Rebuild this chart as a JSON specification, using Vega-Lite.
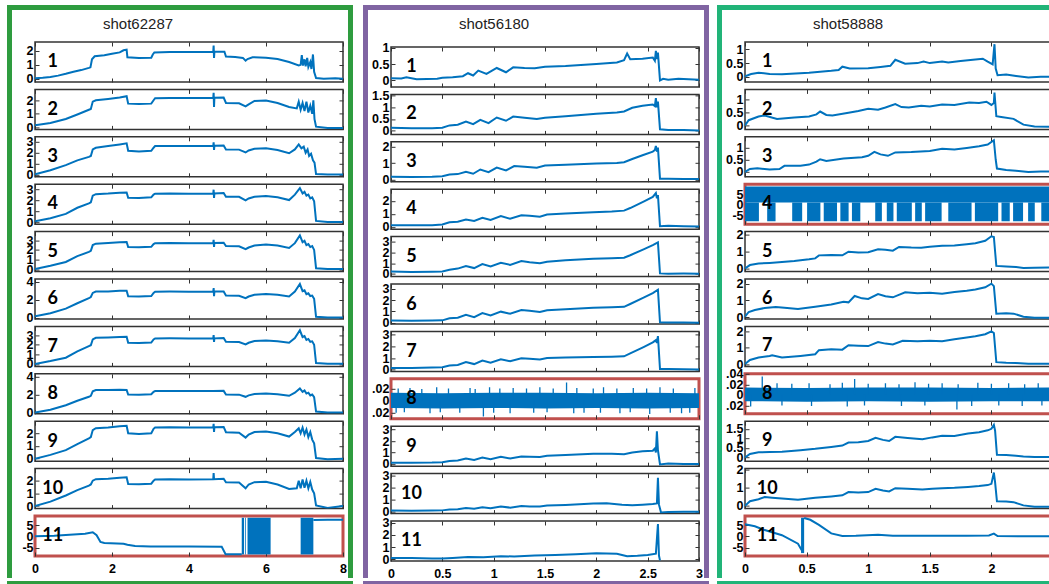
{
"$schema":"https://vega.github.io/schema/vega-lite/v6.json",
"padding":{"left":7,"top":5,"right":0,"bottom":0},
"background":"#ffffff",
"spacing":0,
"config":{
"view":{"stroke":"#333333","strokeWidth":1.5},
"axis":{"labelFont":"Liberation Sans","labelFontSize":12.5,"labelFontWeight":"bold","labelColor":"#000000","tickColor":"#333333","tickSize":-4,"tickWidth":1,"domain":false,"grid":false,"labelFlush":false,"labelOverlap":false,"labelSeparation":-30,"labelPadding":6},
"axisX":{"labelPadding":10},
"axisY":{"minExtent":20,"maxExtent":20,"titleFontSize":1,"titlePadding":0,"titleColor":"#ffffff"},
"line":{"color":"#0072BD","strokeWidth":2},
"text":{"font":"Lato","fontSize":18,"fontWeight":"bold","color":"#000000"},
"rect":{"color":"#0072BD"},
"area":{"color":"#0072BD"},
"rule":{"color":"#0072BD","strokeWidth":1.3},
"title":{"font":"Liberation Sans","fontSize":15,"fontWeight":"normal","color":"#222222"}
},
"datasets":{
"c1r1":[{"x":0,"y":0.03},{"x":0.2,"y":0.06},{"x":0.4,"y":0.12},{"x":0.6,"y":0.22},{"x":0.8,"y":0.35},{"x":1.0,"y":0.5},{"x":1.2,"y":0.62},{"x":1.4,"y":0.78},{"x":1.44,"y":0.82},{"x":1.48,"y":1.4},{"x":1.55,"y":1.62},{"x":1.8,"y":1.7},{"x":2.0,"y":1.8},{"x":2.2,"y":1.9},{"x":2.3,"y":2.05},{"x":2.38,"y":2.1},{"x":2.4,"y":1.55},{"x":2.7,"y":1.5},{"x":3.02,"y":1.52},{"x":3.06,"y":1.75},{"x":3.1,"y":1.9},{"x":3.5,"y":1.92},{"x":4.0,"y":1.93},{"x":4.4,"y":1.92},{"x":4.63,"y":1.95},{"x":4.64,"y":2.4},{"x":4.65,"y":1.5},{"x":4.66,"y":1.95},{"x":4.92,"y":1.95},{"x":4.96,"y":1.6},{"x":5.2,"y":1.57},{"x":5.4,"y":1.5},{"x":5.47,"y":1.3},{"x":5.52,"y":1.42},{"x":5.65,"y":1.55},{"x":6.0,"y":1.52},{"x":6.3,"y":1.42},{"x":6.6,"y":1.2},{"x":6.85,"y":0.95},{"x":6.9,"y":1.0},{"x":6.93,"y":1.7},{"x":6.96,"y":0.95},{"x":7.0,"y":1.4},{"x":7.03,"y":0.9},{"x":7.07,"y":1.5},{"x":7.1,"y":0.85},{"x":7.15,"y":1.2},{"x":7.18,"y":0.7},{"x":7.22,"y":1.75},{"x":7.25,"y":0.5},{"x":7.3,"y":0.05},{"x":7.5,"y":0.0},{"x":7.8,"y":0.03},{"x":8.0,"y":0.0}],
"c1r2":[{"x":0,"y":0.15},{"x":0.4,"y":0.32},{"x":0.8,"y":0.62},{"x":1.1,"y":0.95},{"x":1.4,"y":1.3},{"x":1.45,"y":1.35},{"x":1.5,"y":1.9},{"x":1.58,"y":2.0},{"x":1.9,"y":2.1},{"x":2.2,"y":2.2},{"x":2.38,"y":2.3},{"x":2.42,"y":1.75},{"x":2.7,"y":1.72},{"x":3.02,"y":1.75},{"x":3.08,"y":2.0},{"x":3.12,"y":2.15},{"x":3.5,"y":2.17},{"x":4.0,"y":2.17},{"x":4.63,"y":2.18},{"x":4.64,"y":2.55},{"x":4.65,"y":1.5},{"x":4.66,"y":2.18},{"x":4.9,"y":2.2},{"x":4.96,"y":1.8},{"x":5.3,"y":1.78},{"x":5.47,"y":1.55},{"x":5.55,"y":1.7},{"x":5.7,"y":1.95},{"x":6.0,"y":1.98},{"x":6.3,"y":1.8},{"x":6.6,"y":1.5},{"x":6.8,"y":1.4},{"x":6.85,"y":1.9},{"x":6.9,"y":1.3},{"x":6.95,"y":1.8},{"x":7.0,"y":1.2},{"x":7.05,"y":1.9},{"x":7.1,"y":1.1},{"x":7.15,"y":1.6},{"x":7.2,"y":1.0},{"x":7.23,"y":2.0},{"x":7.26,"y":0.6},{"x":7.3,"y":0.05},{"x":7.6,"y":-0.05},{"x":8.0,"y":-0.05}],
"c1r3":[{"x":0,"y":0.02},{"x":0.4,"y":0.4},{"x":0.8,"y":0.86},{"x":1.1,"y":1.3},{"x":1.4,"y":1.62},{"x":1.45,"y":1.7},{"x":1.5,"y":2.3},{"x":1.58,"y":2.45},{"x":1.9,"y":2.6},{"x":2.2,"y":2.75},{"x":2.38,"y":2.85},{"x":2.42,"y":2.17},{"x":2.7,"y":2.1},{"x":3.02,"y":2.17},{"x":3.08,"y":2.45},{"x":3.12,"y":2.6},{"x":3.5,"y":2.62},{"x":4.0,"y":2.6},{"x":4.63,"y":2.63},{"x":4.64,"y":2.95},{"x":4.65,"y":2.25},{"x":4.66,"y":2.63},{"x":4.9,"y":2.65},{"x":4.96,"y":2.3},{"x":5.3,"y":2.28},{"x":5.47,"y":2.02},{"x":5.55,"y":2.2},{"x":5.7,"y":2.35},{"x":6.0,"y":2.4},{"x":6.3,"y":2.25},{"x":6.6,"y":1.95},{"x":6.75,"y":2.3},{"x":6.85,"y":2.75},{"x":6.92,"y":2.4},{"x":6.98,"y":2.55},{"x":7.03,"y":2.0},{"x":7.08,"y":2.3},{"x":7.12,"y":1.7},{"x":7.17,"y":1.9},{"x":7.22,"y":1.3},{"x":7.26,"y":1.1},{"x":7.3,"y":0.05},{"x":7.6,"y":0.0},{"x":8.0,"y":0.0}],
"c1r4":[{"x":0,"y":0.06},{"x":0.4,"y":0.35},{"x":0.8,"y":0.74},{"x":1.1,"y":1.3},{"x":1.4,"y":1.7},{"x":1.45,"y":1.8},{"x":1.5,"y":2.4},{"x":1.58,"y":2.54},{"x":1.9,"y":2.6},{"x":2.2,"y":2.68},{"x":2.38,"y":2.69},{"x":2.42,"y":2.22},{"x":2.7,"y":2.2},{"x":3.02,"y":2.25},{"x":3.08,"y":2.5},{"x":3.12,"y":2.58},{"x":3.5,"y":2.6},{"x":4.0,"y":2.58},{"x":4.63,"y":2.6},{"x":4.64,"y":2.95},{"x":4.65,"y":2.2},{"x":4.66,"y":2.6},{"x":4.9,"y":2.65},{"x":4.96,"y":2.31},{"x":5.3,"y":2.3},{"x":5.47,"y":1.98},{"x":5.55,"y":2.15},{"x":5.7,"y":2.3},{"x":6.0,"y":2.38},{"x":6.3,"y":2.25},{"x":6.6,"y":2.0},{"x":6.75,"y":2.5},{"x":6.88,"y":3.09},{"x":6.95,"y":2.6},{"x":7.0,"y":2.75},{"x":7.05,"y":2.4},{"x":7.1,"y":2.5},{"x":7.15,"y":2.15},{"x":7.2,"y":2.25},{"x":7.25,"y":1.9},{"x":7.3,"y":0.1},{"x":7.6,"y":0.0},{"x":8.0,"y":0.0}],
"c1r5":[{"x":0,"y":0.02},{"x":0.4,"y":0.35},{"x":0.8,"y":0.75},{"x":1.1,"y":1.35},{"x":1.4,"y":1.79},{"x":1.45,"y":1.9},{"x":1.5,"y":2.5},{"x":1.58,"y":2.65},{"x":1.9,"y":2.72},{"x":2.2,"y":2.8},{"x":2.38,"y":2.82},{"x":2.42,"y":2.3},{"x":2.7,"y":2.28},{"x":3.02,"y":2.32},{"x":3.08,"y":2.6},{"x":3.12,"y":2.7},{"x":3.5,"y":2.72},{"x":4.0,"y":2.7},{"x":4.63,"y":2.72},{"x":4.64,"y":3.05},{"x":4.65,"y":2.3},{"x":4.66,"y":2.72},{"x":4.9,"y":2.75},{"x":4.96,"y":2.41},{"x":5.3,"y":2.38},{"x":5.47,"y":2.07},{"x":5.55,"y":2.25},{"x":5.7,"y":2.45},{"x":6.0,"y":2.55},{"x":6.3,"y":2.45},{"x":6.6,"y":2.2},{"x":6.75,"y":2.7},{"x":6.88,"y":3.5},{"x":6.95,"y":2.8},{"x":7.0,"y":2.95},{"x":7.05,"y":2.5},{"x":7.1,"y":2.6},{"x":7.15,"y":2.3},{"x":7.2,"y":2.4},{"x":7.25,"y":2.0},{"x":7.3,"y":0.1},{"x":7.6,"y":0.02},{"x":8.0,"y":0.02}],
"c1r6":[{"x":0,"y":0.15},{"x":0.4,"y":0.5},{"x":0.8,"y":1.0},{"x":1.1,"y":1.6},{"x":1.4,"y":2.16},{"x":1.45,"y":2.3},{"x":1.5,"y":2.75},{"x":1.58,"y":2.9},{"x":1.9,"y":2.92},{"x":2.2,"y":2.98},{"x":2.38,"y":3.0},{"x":2.42,"y":2.38},{"x":2.7,"y":2.36},{"x":3.02,"y":2.4},{"x":3.08,"y":2.75},{"x":3.12,"y":2.88},{"x":3.5,"y":2.9},{"x":4.0,"y":2.88},{"x":4.63,"y":2.9},{"x":4.64,"y":3.3},{"x":4.65,"y":2.4},{"x":4.66,"y":2.9},{"x":4.9,"y":2.92},{"x":4.96,"y":2.46},{"x":5.3,"y":2.44},{"x":5.47,"y":2.16},{"x":5.55,"y":2.35},{"x":5.7,"y":2.55},{"x":6.0,"y":2.64},{"x":6.3,"y":2.55},{"x":6.6,"y":2.35},{"x":6.75,"y":2.9},{"x":6.88,"y":3.74},{"x":6.95,"y":2.95},{"x":7.0,"y":3.05},{"x":7.05,"y":2.6},{"x":7.1,"y":2.7},{"x":7.15,"y":2.4},{"x":7.2,"y":2.45},{"x":7.25,"y":2.1},{"x":7.3,"y":0.1},{"x":7.6,"y":0.02},{"x":8.0,"y":0.02}],
"c1r7":[{"x":0,"y":0.0},{"x":0.4,"y":0.3},{"x":0.8,"y":0.65},{"x":1.1,"y":1.3},{"x":1.4,"y":1.86},{"x":1.45,"y":1.95},{"x":1.5,"y":2.55},{"x":1.58,"y":2.72},{"x":1.9,"y":2.75},{"x":2.2,"y":2.8},{"x":2.38,"y":2.82},{"x":2.42,"y":2.2},{"x":2.7,"y":2.18},{"x":3.02,"y":2.22},{"x":3.08,"y":2.55},{"x":3.12,"y":2.65},{"x":3.5,"y":2.66},{"x":4.0,"y":2.65},{"x":4.63,"y":2.66},{"x":4.64,"y":3.0},{"x":4.65,"y":2.3},{"x":4.66,"y":2.66},{"x":4.9,"y":2.7},{"x":4.96,"y":2.3},{"x":5.3,"y":2.28},{"x":5.47,"y":2.03},{"x":5.55,"y":2.2},{"x":5.7,"y":2.38},{"x":6.0,"y":2.44},{"x":6.3,"y":2.35},{"x":6.6,"y":2.2},{"x":6.75,"y":2.7},{"x":6.88,"y":3.5},{"x":6.95,"y":2.8},{"x":7.0,"y":2.9},{"x":7.05,"y":2.5},{"x":7.1,"y":2.6},{"x":7.15,"y":2.3},{"x":7.2,"y":2.35},{"x":7.25,"y":2.0},{"x":7.3,"y":0.1},{"x":7.6,"y":0.02},{"x":8.0,"y":0.02}],
"c1r8":[{"x":0,"y":0.0},{"x":0.4,"y":0.3},{"x":0.8,"y":0.8},{"x":1.1,"y":1.3},{"x":1.4,"y":1.74},{"x":1.45,"y":1.85},{"x":1.5,"y":2.35},{"x":1.58,"y":2.49},{"x":1.9,"y":2.5},{"x":2.2,"y":2.52},{"x":2.38,"y":2.5},{"x":2.42,"y":2.0},{"x":2.7,"y":1.98},{"x":3.02,"y":2.02},{"x":3.08,"y":2.3},{"x":3.12,"y":2.38},{"x":3.5,"y":2.4},{"x":4.0,"y":2.38},{"x":4.63,"y":2.38},{"x":4.9,"y":2.4},{"x":4.96,"y":2.0},{"x":5.3,"y":1.98},{"x":5.47,"y":1.74},{"x":5.55,"y":1.9},{"x":5.7,"y":2.05},{"x":6.0,"y":2.1},{"x":6.3,"y":2.02},{"x":6.6,"y":1.85},{"x":6.75,"y":2.2},{"x":6.88,"y":2.67},{"x":6.95,"y":2.3},{"x":7.0,"y":2.45},{"x":7.05,"y":2.1},{"x":7.1,"y":2.2},{"x":7.15,"y":1.9},{"x":7.2,"y":2.0},{"x":7.25,"y":1.7},{"x":7.3,"y":0.1},{"x":7.6,"y":0.0},{"x":8.0,"y":0.0}],
"c1r9":[{"x":0,"y":0.0},{"x":0.4,"y":0.3},{"x":0.8,"y":0.67},{"x":1.1,"y":1.15},{"x":1.4,"y":1.6},{"x":1.45,"y":1.7},{"x":1.5,"y":2.25},{"x":1.58,"y":2.4},{"x":1.9,"y":2.45},{"x":2.2,"y":2.55},{"x":2.38,"y":2.59},{"x":2.42,"y":2.0},{"x":2.7,"y":1.95},{"x":3.02,"y":2.0},{"x":3.08,"y":2.35},{"x":3.12,"y":2.45},{"x":3.5,"y":2.48},{"x":4.0,"y":2.46},{"x":4.63,"y":2.48},{"x":4.64,"y":2.75},{"x":4.65,"y":2.1},{"x":4.66,"y":2.48},{"x":4.9,"y":2.5},{"x":4.96,"y":2.08},{"x":5.3,"y":2.05},{"x":5.47,"y":1.66},{"x":5.55,"y":1.9},{"x":5.7,"y":2.1},{"x":6.0,"y":2.14},{"x":6.3,"y":2.0},{"x":6.6,"y":1.74},{"x":6.75,"y":2.1},{"x":6.85,"y":2.4},{"x":6.9,"y":2.0},{"x":6.95,"y":2.45},{"x":7.0,"y":1.9},{"x":7.05,"y":2.3},{"x":7.1,"y":1.7},{"x":7.15,"y":2.1},{"x":7.2,"y":1.5},{"x":7.25,"y":1.2},{"x":7.3,"y":0.05},{"x":7.6,"y":-0.05},{"x":8.0,"y":0.0}],
"c1r10":[{"x":0,"y":0.0},{"x":0.4,"y":0.35},{"x":0.8,"y":0.83},{"x":1.1,"y":1.25},{"x":1.4,"y":1.61},{"x":1.45,"y":1.7},{"x":1.5,"y":2.0},{"x":1.58,"y":2.12},{"x":1.9,"y":2.15},{"x":2.2,"y":2.22},{"x":2.38,"y":2.26},{"x":2.42,"y":1.74},{"x":2.7,"y":1.72},{"x":3.02,"y":1.76},{"x":3.08,"y":2.0},{"x":3.12,"y":2.1},{"x":3.5,"y":2.12},{"x":4.0,"y":2.1},{"x":4.63,"y":2.12},{"x":4.64,"y":2.6},{"x":4.65,"y":2.12},{"x":4.9,"y":2.15},{"x":4.96,"y":1.87},{"x":5.3,"y":1.85},{"x":5.47,"y":1.4},{"x":5.55,"y":1.7},{"x":5.7,"y":1.88},{"x":6.0,"y":1.92},{"x":6.3,"y":1.7},{"x":6.6,"y":1.35},{"x":6.8,"y":1.4},{"x":6.85,"y":2.0},{"x":6.9,"y":1.4},{"x":6.95,"y":2.1},{"x":7.0,"y":1.45},{"x":7.05,"y":2.0},{"x":7.1,"y":1.4},{"x":7.15,"y":1.9},{"x":7.2,"y":1.3},{"x":7.25,"y":1.0},{"x":7.3,"y":0.05},{"x":7.6,"y":-0.15},{"x":8.0,"y":0.0}],
"c1r11":[{"s":"a","x":0,"y":0},{"s":"a","x":0.5,"y":0.3},{"s":"a","x":1.0,"y":0.8},{"s":"a","x":1.3,"y":1.2},{"s":"a","x":1.5,"y":1.8},{"s":"a","x":1.6,"y":0.5},{"s":"a","x":1.7,"y":-2.5},{"s":"a","x":1.8,"y":-3.0},{"s":"a","x":2.3,"y":-3.3},{"s":"a","x":2.4,"y":-3.8},{"s":"a","x":2.6,"y":-4.3},{"s":"a","x":3.0,"y":-4.5},{"s":"a","x":4.0,"y":-4.6},{"s":"a","x":4.85,"y":-4.7},{"s":"a","x":4.95,"y":-8.0},{"s":"a","x":5.37,"y":-8.0},{"s":"b","x":7.23,"y":7.3},{"s":"b","x":7.6,"y":7.4},{"s":"b","x":8.0,"y":7.4}],
"c1r11b":[{"x":5.37,"x2":5.43,"lo":-8.1,"hi":8.3},{"x":5.46,"x2":5.48,"lo":-8.1,"hi":8.3},{"x":5.52,"x2":6.12,"lo":-8.1,"hi":8.3},{"x":6.9,"x2":7.23,"lo":-8.1,"hi":8.3}],
"c2r1":[{"x":0,"y":0.07},{"x":0.1,"y":0.06},{"x":0.15,"y":0.1},{"x":0.25,"y":0.04},{"x":0.45,"y":0.05},{"x":0.5,"y":0.08},{"x":0.6,"y":0.1},{"x":0.7,"y":0.13},{"x":0.75,"y":0.22},{"x":0.8,"y":0.15},{"x":0.85,"y":0.3},{"x":0.93,"y":0.2},{"x":1.03,"y":0.38},{"x":1.12,"y":0.25},{"x":1.19,"y":0.4},{"x":1.3,"y":0.38},{"x":1.4,"y":0.37},{"x":1.5,"y":0.42},{"x":1.7,"y":0.44},{"x":2.0,"y":0.5},{"x":2.2,"y":0.55},{"x":2.27,"y":0.62},{"x":2.3,"y":0.82},{"x":2.33,"y":0.65},{"x":2.45,"y":0.66},{"x":2.55,"y":0.7},{"x":2.57,"y":0.6},{"x":2.58,"y":0.9},{"x":2.59,"y":0.65},{"x":2.6,"y":0.85},{"x":2.62,"y":0.0},{"x":2.65,"y":0.05},{"x":2.7,"y":0.02},{"x":2.8,"y":0.05},{"x":3.0,"y":0.02}],
"c2r2":[{"x":0,"y":0.12},{"x":0.2,"y":0.1},{"x":0.4,"y":0.1},{"x":0.5,"y":0.12},{"x":0.57,"y":0.22},{"x":0.65,"y":0.25},{"x":0.73,"y":0.39},{"x":0.8,"y":0.27},{"x":0.87,"y":0.46},{"x":0.95,"y":0.32},{"x":1.03,"y":0.56},{"x":1.12,"y":0.42},{"x":1.19,"y":0.6},{"x":1.3,"y":0.55},{"x":1.42,"y":0.5},{"x":1.5,"y":0.55},{"x":1.7,"y":0.62},{"x":2.0,"y":0.72},{"x":2.2,"y":0.78},{"x":2.27,"y":0.82},{"x":2.35,"y":0.98},{"x":2.45,"y":1.07},{"x":2.55,"y":1.12},{"x":2.57,"y":1.05},{"x":2.58,"y":1.4},{"x":2.59,"y":1.0},{"x":2.6,"y":1.25},{"x":2.62,"y":0.05},{"x":2.7,"y":0.02},{"x":2.85,"y":0.02},{"x":3.0,"y":0.0}],
"c2r3":[{"x":0,"y":0.17},{"x":0.2,"y":0.15},{"x":0.4,"y":0.17},{"x":0.5,"y":0.2},{"x":0.57,"y":0.3},{"x":0.65,"y":0.33},{"x":0.73,"y":0.47},{"x":0.8,"y":0.35},{"x":0.87,"y":0.61},{"x":0.95,"y":0.45},{"x":1.03,"y":0.73},{"x":1.12,"y":0.55},{"x":1.2,"y":0.82},{"x":1.3,"y":0.78},{"x":1.42,"y":0.72},{"x":1.5,"y":0.85},{"x":1.7,"y":0.9},{"x":2.0,"y":0.98},{"x":2.2,"y":1.0},{"x":2.27,"y":1.05},{"x":2.35,"y":1.25},{"x":2.45,"y":1.48},{"x":2.55,"y":1.7},{"x":2.57,"y":1.8},{"x":2.58,"y":2.05},{"x":2.59,"y":1.7},{"x":2.6,"y":1.95},{"x":2.62,"y":0.05},{"x":2.7,"y":0.05},{"x":2.85,"y":0.03},{"x":3.0,"y":0.03}],
"c2r4":[{"x":0,"y":0.12},{"x":0.2,"y":0.12},{"x":0.4,"y":0.13},{"x":0.5,"y":0.18},{"x":0.57,"y":0.35},{"x":0.65,"y":0.4},{"x":0.73,"y":0.57},{"x":0.81,"y":0.45},{"x":0.89,"y":0.7},{"x":0.97,"y":0.53},{"x":1.07,"y":0.83},{"x":1.16,"y":0.62},{"x":1.27,"y":0.9},{"x":1.35,"y":0.85},{"x":1.45,"y":0.78},{"x":1.52,"y":0.95},{"x":1.7,"y":1.02},{"x":1.97,"y":1.12},{"x":2.15,"y":1.18},{"x":2.27,"y":1.25},{"x":2.33,"y":1.45},{"x":2.46,"y":1.95},{"x":2.55,"y":2.3},{"x":2.58,"y":2.6},{"x":2.59,"y":2.2},{"x":2.6,"y":2.45},{"x":2.62,"y":0.05},{"x":2.7,"y":0.08},{"x":2.85,"y":0.05},{"x":3.0,"y":0.03}],
"c2r5":[{"x":0,"y":0.22},{"x":0.2,"y":0.18},{"x":0.4,"y":0.2},{"x":0.5,"y":0.22},{"x":0.57,"y":0.4},{"x":0.65,"y":0.5},{"x":0.73,"y":0.74},{"x":0.81,"y":0.55},{"x":0.89,"y":0.93},{"x":0.97,"y":0.7},{"x":1.07,"y":1.05},{"x":1.16,"y":0.85},{"x":1.27,"y":1.2},{"x":1.35,"y":1.1},{"x":1.45,"y":1.0},{"x":1.52,"y":1.15},{"x":1.7,"y":1.28},{"x":1.97,"y":1.42},{"x":2.15,"y":1.48},{"x":2.27,"y":1.52},{"x":2.33,"y":1.75},{"x":2.46,"y":2.3},{"x":2.55,"y":2.7},{"x":2.6,"y":2.95},{"x":2.62,"y":0.05},{"x":2.7,"y":0.02},{"x":2.85,"y":0.03},{"x":3.0,"y":0.02}],
"c2r6":[{"x":0,"y":0.2},{"x":0.2,"y":0.18},{"x":0.4,"y":0.2},{"x":0.5,"y":0.22},{"x":0.57,"y":0.4},{"x":0.65,"y":0.45},{"x":0.73,"y":0.7},{"x":0.81,"y":0.5},{"x":0.89,"y":0.85},{"x":0.97,"y":0.65},{"x":1.07,"y":0.98},{"x":1.16,"y":0.8},{"x":1.27,"y":1.12},{"x":1.35,"y":1.05},{"x":1.45,"y":0.95},{"x":1.52,"y":1.1},{"x":1.7,"y":1.2},{"x":1.97,"y":1.32},{"x":2.15,"y":1.36},{"x":2.27,"y":1.4},{"x":2.33,"y":1.65},{"x":2.46,"y":2.2},{"x":2.55,"y":2.6},{"x":2.6,"y":2.9},{"x":2.62,"y":0.05},{"x":2.7,"y":0.03},{"x":2.85,"y":0.03},{"x":3.0,"y":0.02}],
"c2r7":[{"x":0,"y":0.15},{"x":0.2,"y":0.15},{"x":0.4,"y":0.18},{"x":0.5,"y":0.2},{"x":0.57,"y":0.35},{"x":0.65,"y":0.4},{"x":0.73,"y":0.65},{"x":0.81,"y":0.48},{"x":0.89,"y":0.78},{"x":0.97,"y":0.6},{"x":1.07,"y":0.9},{"x":1.16,"y":0.72},{"x":1.27,"y":0.98},{"x":1.35,"y":0.95},{"x":1.45,"y":0.88},{"x":1.52,"y":1.0},{"x":1.7,"y":1.05},{"x":1.97,"y":1.1},{"x":2.15,"y":1.12},{"x":2.27,"y":1.15},{"x":2.33,"y":1.4},{"x":2.46,"y":1.95},{"x":2.55,"y":2.35},{"x":2.58,"y":2.55},{"x":2.59,"y":2.3},{"x":2.6,"y":2.9},{"x":2.62,"y":0.05},{"x":2.7,"y":0.05},{"x":2.85,"y":0.03},{"x":3.0,"y":0.02}],
"c2r8b":[{"x":0,"lo":-0.012,"hi":0.013},{"x":0.5,"lo":-0.013,"hi":0.012},{"x":1,"lo":-0.012,"hi":0.013},{"x":1.5,"lo":-0.013,"hi":0.013},{"x":2,"lo":-0.012,"hi":0.012},{"x":2.5,"lo":-0.013,"hi":0.013},{"x":3,"lo":-0.012,"hi":0.012}],
"c2r8s":[{"x":0.05,"lo":-0.02,"hi":0},{"x":0.07,"lo":0,"hi":0.02},{"x":0.13,"lo":-0.019,"hi":0},{"x":0.185,"lo":0,"hi":0.021},{"x":0.3,"lo":0,"hi":0.019},{"x":0.38,"lo":-0.021,"hi":0},{"x":0.445,"lo":0,"hi":0.022},{"x":0.48,"lo":-0.019,"hi":0},{"x":0.56,"lo":0,"hi":0.02},{"x":0.67,"lo":-0.02,"hi":0},{"x":0.77,"lo":0,"hi":0.021},{"x":0.82,"lo":0,"hi":0.019},{"x":0.9,"lo":-0.026,"hi":0},{"x":0.96,"lo":0,"hi":0.022},{"x":1.0,"lo":-0.02,"hi":0},{"x":1.06,"lo":0,"hi":0.02},{"x":1.16,"lo":-0.021,"hi":0},{"x":1.19,"lo":0,"hi":0.021},{"x":1.32,"lo":0,"hi":0.02},{"x":1.39,"lo":-0.02,"hi":0},{"x":1.45,"lo":0,"hi":0.022},{"x":1.52,"lo":-0.019,"hi":0},{"x":1.58,"lo":0,"hi":0.02},{"x":1.71,"lo":0,"hi":0.03},{"x":1.78,"lo":-0.021,"hi":0},{"x":1.81,"lo":0,"hi":0.021},{"x":1.88,"lo":-0.02,"hi":0},{"x":1.97,"lo":0,"hi":0.02},{"x":2.04,"lo":-0.02,"hi":0},{"x":2.07,"lo":0,"hi":0.022},{"x":2.2,"lo":0,"hi":0.02},{"x":2.23,"lo":-0.021,"hi":0},{"x":2.33,"lo":-0.019,"hi":0},{"x":2.36,"lo":0,"hi":0.021},{"x":2.49,"lo":0,"hi":0.02},{"x":2.52,"lo":-0.022,"hi":0},{"x":2.62,"lo":0,"hi":0.022},{"x":2.72,"lo":-0.02,"hi":0},{"x":2.75,"lo":0,"hi":0.02},{"x":2.83,"lo":-0.021,"hi":0},{"x":2.91,"lo":-0.02,"hi":0},{"x":2.96,"lo":0,"hi":0.021}],
"c2r9":[{"x":0,"y":0.1},{"x":0.2,"y":0.1},{"x":0.4,"y":0.12},{"x":0.5,"y":0.15},{"x":0.57,"y":0.25},{"x":0.65,"y":0.3},{"x":0.73,"y":0.48},{"x":0.81,"y":0.35},{"x":0.89,"y":0.55},{"x":0.97,"y":0.42},{"x":1.07,"y":0.62},{"x":1.16,"y":0.48},{"x":1.27,"y":0.65},{"x":1.35,"y":0.62},{"x":1.45,"y":0.6},{"x":1.52,"y":0.72},{"x":1.7,"y":0.78},{"x":1.97,"y":0.88},{"x":2.15,"y":0.88},{"x":2.27,"y":0.85},{"x":2.35,"y":1.0},{"x":2.45,"y":1.1},{"x":2.55,"y":1.15},{"x":2.57,"y":1.35},{"x":2.58,"y":1.0},{"x":2.59,"y":2.85},{"x":2.6,"y":1.2},{"x":2.62,"y":-0.05},{"x":2.7,"y":0.03},{"x":2.85,"y":0.0},{"x":3.0,"y":0.0}],
"c2r10":[{"x":0,"y":0.1},{"x":0.2,"y":0.08},{"x":0.4,"y":0.1},{"x":0.5,"y":0.12},{"x":0.57,"y":0.2},{"x":0.65,"y":0.22},{"x":0.73,"y":0.32},{"x":0.81,"y":0.25},{"x":0.89,"y":0.38},{"x":0.97,"y":0.3},{"x":1.07,"y":0.45},{"x":1.16,"y":0.35},{"x":1.27,"y":0.48},{"x":1.35,"y":0.45},{"x":1.45,"y":0.45},{"x":1.52,"y":0.52},{"x":1.7,"y":0.58},{"x":1.97,"y":0.7},{"x":2.1,"y":0.72},{"x":2.25,"y":0.6},{"x":2.35,"y":0.55},{"x":2.45,"y":0.6},{"x":2.55,"y":0.65},{"x":2.59,"y":0.7},{"x":2.6,"y":2.85},{"x":2.61,"y":0.6},{"x":2.63,"y":-0.05},{"x":2.7,"y":-0.02},{"x":2.85,"y":0.0},{"x":3.0,"y":0.0}],
"c2r11":[{"x":0,"y":0.1},{"x":0.2,"y":0.1},{"x":0.4,"y":0.05},{"x":0.5,"y":0.05},{"x":0.6,"y":0.1},{"x":0.75,"y":0.18},{"x":0.9,"y":0.15},{"x":1.07,"y":0.25},{"x":1.2,"y":0.22},{"x":1.4,"y":0.3},{"x":1.6,"y":0.35},{"x":1.8,"y":0.4},{"x":2.0,"y":0.48},{"x":2.2,"y":0.45},{"x":2.3,"y":0.25},{"x":2.4,"y":0.28},{"x":2.5,"y":0.35},{"x":2.58,"y":0.45},{"x":2.6,"y":2.9},{"x":2.61,"y":0.3},{"x":2.62,"y":-0.1}],
"c3r1":[{"x":0,"y":0.02},{"x":0.05,"y":0.1},{"x":0.11,"y":0.15},{"x":0.2,"y":0.1},{"x":0.3,"y":0.09},{"x":0.52,"y":0.15},{"x":0.7,"y":0.22},{"x":0.76,"y":0.25},{"x":0.79,"y":0.37},{"x":0.85,"y":0.3},{"x":1.0,"y":0.31},{"x":1.1,"y":0.36},{"x":1.18,"y":0.4},{"x":1.22,"y":0.62},{"x":1.3,"y":0.48},{"x":1.4,"y":0.5},{"x":1.45,"y":0.56},{"x":1.5,"y":0.5},{"x":1.6,"y":0.56},{"x":1.65,"y":0.52},{"x":1.75,"y":0.58},{"x":1.85,"y":0.62},{"x":1.93,"y":0.66},{"x":1.97,"y":0.55},{"x":2.01,"y":0.45},{"x":2.025,"y":1.19},{"x":2.035,"y":0.3},{"x":2.05,"y":0.06},{"x":2.12,"y":0.08},{"x":2.2,"y":0.03},{"x":2.3,"y":-0.03},{"x":2.4,"y":0.0},{"x":2.5,"y":0.0}],
"c3r2":[{"x":0,"y":0.0},{"x":0.03,"y":0.2},{"x":0.11,"y":0.34},{"x":0.16,"y":0.38},{"x":0.26,"y":0.25},{"x":0.4,"y":0.3},{"x":0.52,"y":0.34},{"x":0.58,"y":0.42},{"x":0.61,"y":0.53},{"x":0.66,"y":0.4},{"x":0.71,"y":0.38},{"x":0.84,"y":0.48},{"x":0.92,"y":0.55},{"x":1.0,"y":0.63},{"x":1.08,"y":0.6},{"x":1.14,"y":0.68},{"x":1.22,"y":0.81},{"x":1.27,"y":0.7},{"x":1.33,"y":0.68},{"x":1.43,"y":0.75},{"x":1.5,"y":0.72},{"x":1.6,"y":0.8},{"x":1.7,"y":0.78},{"x":1.82,"y":0.87},{"x":1.9,"y":0.85},{"x":1.96,"y":0.9},{"x":2.0,"y":0.78},{"x":2.02,"y":0.85},{"x":2.025,"y":1.25},{"x":2.04,"y":0.35},{"x":2.08,"y":0.32},{"x":2.18,"y":0.25},{"x":2.26,"y":0.03},{"x":2.35,"y":-0.04},{"x":2.5,"y":-0.05}],
"c3r3":[{"x":0,"y":0.0},{"x":0.04,"y":0.12},{"x":0.1,"y":0.15},{"x":0.2,"y":0.1},{"x":0.28,"y":0.12},{"x":0.32,"y":0.25},{"x":0.45,"y":0.25},{"x":0.52,"y":0.3},{"x":0.58,"y":0.42},{"x":0.61,"y":0.52},{"x":0.66,"y":0.45},{"x":0.8,"y":0.55},{"x":0.95,"y":0.6},{"x":1.0,"y":0.66},{"x":1.05,"y":0.82},{"x":1.1,"y":0.72},{"x":1.16,"y":0.66},{"x":1.22,"y":0.8},{"x":1.35,"y":0.82},{"x":1.5,"y":0.86},{"x":1.6,"y":0.95},{"x":1.7,"y":0.92},{"x":1.8,"y":0.98},{"x":1.9,"y":1.05},{"x":1.97,"y":1.12},{"x":2.02,"y":1.3},{"x":2.035,"y":0.5},{"x":2.045,"y":0.14},{"x":2.12,"y":0.08},{"x":2.2,"y":0.05},{"x":2.3,"y":0.0},{"x":2.4,"y":0.02},{"x":2.5,"y":0.02}],
"c3r4b":[{"x":0,"x2":2.5,"lo":1,"hi":8.6},{"x":0,"x2":0.113,"lo":-7.8,"hi":1},{"x":0.18,"x2":0.248,"lo":-7.8,"hi":1},{"x":0.383,"x2":0.464,"lo":-7.8,"hi":1},{"x":0.504,"x2":0.612,"lo":-7.8,"hi":1},{"x":0.639,"x2":0.747,"lo":-7.8,"hi":1},{"x":0.774,"x2":0.841,"lo":-7.8,"hi":1},{"x":0.868,"x2":0.936,"lo":-7.8,"hi":1},{"x":1.057,"x2":1.111,"lo":-7.8,"hi":1},{"x":1.151,"x2":1.205,"lo":-7.8,"hi":1},{"x":1.232,"x2":1.354,"lo":-7.8,"hi":1},{"x":1.381,"x2":1.435,"lo":-7.8,"hi":1},{"x":1.462,"x2":1.596,"lo":-7.8,"hi":1},{"x":1.65,"x2":1.839,"lo":-7.8,"hi":1},{"x":1.866,"x2":2.055,"lo":-7.8,"hi":1},{"x":2.082,"x2":2.149,"lo":-7.8,"hi":1},{"x":2.176,"x2":2.257,"lo":-7.8,"hi":1},{"x":2.298,"x2":2.352,"lo":-7.8,"hi":1},{"x":2.405,"x2":2.5,"lo":-7.8,"hi":1}],
"c3r5":[{"x":0,"y":0.0},{"x":0.04,"y":0.2},{"x":0.11,"y":0.29},{"x":0.2,"y":0.33},{"x":0.3,"y":0.39},{"x":0.4,"y":0.45},{"x":0.52,"y":0.55},{"x":0.57,"y":0.6},{"x":0.6,"y":0.78},{"x":0.7,"y":0.8},{"x":0.79,"y":0.78},{"x":0.84,"y":1.0},{"x":0.92,"y":0.95},{"x":1.0,"y":0.97},{"x":1.08,"y":1.15},{"x":1.14,"y":1.12},{"x":1.2,"y":1.06},{"x":1.25,"y":1.28},{"x":1.35,"y":1.25},{"x":1.43,"y":1.24},{"x":1.5,"y":1.3},{"x":1.6,"y":1.35},{"x":1.7,"y":1.37},{"x":1.8,"y":1.45},{"x":1.87,"y":1.5},{"x":1.95,"y":1.65},{"x":2.0,"y":1.92},{"x":2.02,"y":1.88},{"x":2.04,"y":0.15},{"x":2.12,"y":0.12},{"x":2.2,"y":0.08},{"x":2.26,"y":0.03},{"x":2.35,"y":0.04},{"x":2.5,"y":0.05}],
"c3r6":[{"x":0,"y":0.02},{"x":0.03,"y":0.3},{"x":0.08,"y":0.42},{"x":0.16,"y":0.54},{"x":0.25,"y":0.6},{"x":0.32,"y":0.55},{"x":0.43,"y":0.48},{"x":0.57,"y":0.62},{"x":0.7,"y":0.75},{"x":0.8,"y":0.92},{"x":0.84,"y":0.88},{"x":0.89,"y":1.26},{"x":0.95,"y":1.12},{"x":1.0,"y":1.08},{"x":1.08,"y":1.38},{"x":1.14,"y":1.25},{"x":1.2,"y":1.18},{"x":1.3,"y":1.48},{"x":1.4,"y":1.42},{"x":1.5,"y":1.45},{"x":1.6,"y":1.4},{"x":1.7,"y":1.5},{"x":1.8,"y":1.58},{"x":1.87,"y":1.65},{"x":1.95,"y":1.78},{"x":2.0,"y":2.0},{"x":2.02,"y":1.85},{"x":2.04,"y":0.2},{"x":2.12,"y":0.22},{"x":2.18,"y":0.2},{"x":2.26,"y":0.02},{"x":2.35,"y":-0.05},{"x":2.5,"y":-0.05}],
"c3r7":[{"x":0,"y":0.0},{"x":0.04,"y":0.25},{"x":0.11,"y":0.4},{"x":0.2,"y":0.5},{"x":0.22,"y":0.54},{"x":0.3,"y":0.4},{"x":0.45,"y":0.5},{"x":0.57,"y":0.6},{"x":0.6,"y":0.85},{"x":0.7,"y":0.9},{"x":0.79,"y":0.88},{"x":0.84,"y":1.15},{"x":0.92,"y":1.12},{"x":1.0,"y":1.1},{"x":1.08,"y":1.35},{"x":1.14,"y":1.25},{"x":1.2,"y":1.2},{"x":1.28,"y":1.42},{"x":1.4,"y":1.4},{"x":1.5,"y":1.42},{"x":1.6,"y":1.4},{"x":1.7,"y":1.52},{"x":1.8,"y":1.62},{"x":1.87,"y":1.7},{"x":1.95,"y":1.82},{"x":2.0,"y":2.0},{"x":2.02,"y":1.9},{"x":2.04,"y":0.12},{"x":2.12,"y":0.08},{"x":2.2,"y":0.06},{"x":2.3,"y":0.02},{"x":2.4,"y":0.02},{"x":2.5,"y":0.02}],
"c3r8b":[{"x":0,"lo":-0.012,"hi":0.014},{"x":0.5,"lo":-0.013,"hi":0.013},{"x":1,"lo":-0.012,"hi":0.014},{"x":1.5,"lo":-0.013,"hi":0.014},{"x":2,"lo":-0.012,"hi":0.013},{"x":2.5,"lo":-0.012,"hi":0.014}],
"c3r8s":[{"x":0.046,"lo":-0.022,"hi":0},{"x":0.14,"lo":0,"hi":0.035},{"x":0.26,"lo":0,"hi":0.022},{"x":0.3,"lo":-0.02,"hi":0},{"x":0.38,"lo":0,"hi":0.021},{"x":0.52,"lo":0,"hi":0.022},{"x":0.54,"lo":-0.021,"hi":0},{"x":0.69,"lo":0,"hi":0.02},{"x":0.79,"lo":0,"hi":0.023},{"x":0.83,"lo":-0.022,"hi":0},{"x":0.89,"lo":0,"hi":0.03},{"x":0.97,"lo":-0.02,"hi":0},{"x":1.0,"lo":0,"hi":0.021},{"x":1.14,"lo":0,"hi":0.022},{"x":1.25,"lo":0,"hi":0.02},{"x":1.27,"lo":-0.021,"hi":0},{"x":1.38,"lo":0,"hi":0.024},{"x":1.46,"lo":-0.02,"hi":0},{"x":1.49,"lo":0,"hi":0.021},{"x":1.6,"lo":0,"hi":0.022},{"x":1.72,"lo":-0.028,"hi":0},{"x":1.73,"lo":0,"hi":0.02},{"x":1.84,"lo":-0.021,"hi":0},{"x":1.89,"lo":0,"hi":0.023},{"x":2.0,"lo":0,"hi":0.021},{"x":2.06,"lo":-0.02,"hi":0},{"x":2.14,"lo":0,"hi":0.022},{"x":2.25,"lo":-0.021,"hi":0},{"x":2.27,"lo":0,"hi":0.02},{"x":2.38,"lo":0,"hi":0.022},{"x":2.41,"lo":-0.02,"hi":0}],
"c3r9":[{"x":0,"y":0.0},{"x":0.04,"y":0.18},{"x":0.11,"y":0.27},{"x":0.2,"y":0.28},{"x":0.3,"y":0.3},{"x":0.45,"y":0.38},{"x":0.57,"y":0.45},{"x":0.7,"y":0.55},{"x":0.79,"y":0.62},{"x":0.84,"y":0.78},{"x":0.92,"y":0.8},{"x":1.0,"y":0.86},{"x":1.06,"y":1.03},{"x":1.12,"y":0.92},{"x":1.17,"y":0.86},{"x":1.22,"y":1.08},{"x":1.32,"y":1.02},{"x":1.44,"y":0.95},{"x":1.52,"y":1.05},{"x":1.6,"y":1.13},{"x":1.7,"y":1.12},{"x":1.81,"y":1.25},{"x":1.9,"y":1.32},{"x":1.97,"y":1.42},{"x":2.0,"y":1.5},{"x":2.02,"y":1.71},{"x":2.03,"y":1.4},{"x":2.045,"y":0.14},{"x":2.12,"y":0.12},{"x":2.2,"y":0.08},{"x":2.26,"y":0.05},{"x":2.35,"y":0.02},{"x":2.5,"y":0.02}],
"c3r10":[{"x":0,"y":0.0},{"x":0.04,"y":0.25},{"x":0.11,"y":0.36},{"x":0.16,"y":0.49},{"x":0.22,"y":0.45},{"x":0.3,"y":0.4},{"x":0.43,"y":0.33},{"x":0.57,"y":0.45},{"x":0.7,"y":0.52},{"x":0.79,"y":0.58},{"x":0.84,"y":0.76},{"x":0.92,"y":0.74},{"x":1.0,"y":0.76},{"x":1.06,"y":0.94},{"x":1.12,"y":0.85},{"x":1.17,"y":0.8},{"x":1.22,"y":0.98},{"x":1.32,"y":0.95},{"x":1.44,"y":0.9},{"x":1.52,"y":0.95},{"x":1.6,"y":0.98},{"x":1.7,"y":1.0},{"x":1.81,"y":1.05},{"x":1.9,"y":1.1},{"x":1.97,"y":1.15},{"x":2.0,"y":1.22},{"x":2.02,"y":1.85},{"x":2.03,"y":1.3},{"x":2.045,"y":0.25},{"x":2.12,"y":0.24},{"x":2.18,"y":0.2},{"x":2.26,"y":0.02},{"x":2.35,"y":-0.05},{"x":2.5,"y":-0.05}],
"c3r11":[{"s":"a","x":0,"y":5.4},{"s":"a","x":0.08,"y":4.5},{"s":"a","x":0.16,"y":2.8},{"s":"a","x":0.3,"y":0.5},{"s":"a","x":0.43,"y":-3.3},{"s":"a","x":0.47,"y":-7.1},{"s":"b","x":0.48,"y":8.2},{"s":"b","x":0.53,"y":7.4},{"s":"b","x":0.6,"y":5.1},{"s":"b","x":0.7,"y":1.3},{"s":"b","x":0.79,"y":0.2},{"s":"b","x":0.9,"y":0.3},{"s":"b","x":1.08,"y":0.7},{"s":"b","x":1.2,"y":0.3},{"s":"b","x":1.5,"y":0.25},{"s":"b","x":1.8,"y":0.3},{"s":"b","x":1.98,"y":0.4},{"s":"b","x":2.02,"y":1.2},{"s":"b","x":2.05,"y":0.1},{"s":"b","x":2.3,"y":0.0},{"s":"b","x":2.5,"y":0.0}],
"c3r11b":[{"x":0.455,"x2":0.48,"lo":-7.5,"hi":8.3}]
},
"vconcat":[
{"spacing":0,"hconcat":[
{"width":346,"height":5,"data":{"values":[]},"mark":"rect","view":{"fill":"#2e9c3f","stroke":null}},
{"width":10,"height":5,"data":{"values":[]},"mark":"rect","view":{"stroke":null}},
{"width":346,"height":5,"data":{"values":[]},"mark":"rect","view":{"fill":"#8064a2","stroke":null}},
{"width":8,"height":5,"data":{"values":[]},"mark":"rect","view":{"stroke":null}},
{"width":340,"height":5,"data":{"values":[]},"mark":"rect","view":{"fill":"#21b478","stroke":null}}
]},
{"spacing":0,"hconcat":[
{"width":5,"height":568,"data":{"values":[]},"mark":"rect","view":{"fill":"#2e9c3f","stroke":null}},
{"spacing":8,"vconcat":[
{"width":308,"height":1,"data":{"values":[]},"mark":"rect","view":{"stroke":null},"title":{"text":"shot62287","orient":"bottom","anchor":"start","frame":"group","dx":68,"offset":6}},
{"spacing":7.4,"bounds":"flush","vconcat":[
{"width":308,"height":40,"resolve":{"axis":{"x":"independent","y":"independent"}},"layer":[
{"data":{"name":"c1r1"},"mark":{"type":"line","clip":true},"encoding":{"x":{"field":"x","type":"quantitative","scale":{"domain":[0,8],"nice":false,"zero":false},"axis":{"values":[0,2,4,6,8],"labels":false,"title":null}},"y":{"field":"y","type":"quantitative","scale":{"domain":[-0.24,2.65],"nice":false,"zero":false},"axis":{"values":[0,1,2],"format":"~g","title":" ","labelOverlap":false,"labelSeparation":-30}}}},
{"data":{"values":[{}]},"mark":{"type":"text","text":"1"},"encoding":{"x":{"datum":0.46,"type":"quantitative","scale":{"domain":[0,8],"nice":false,"zero":false},"axis":{"orient":"top","values":[0,2,4,6,8],"labels":false,"title":null,"minExtent":0,"maxExtent":0}},"y":{"datum":1.2,"type":"quantitative","scale":{"domain":[-0.24,2.65],"nice":false,"zero":false},"axis":{"orient":"right","values":[0,1,2],"labels":false,"title":null,"minExtent":0,"maxExtent":0}}}}]},
{"width":308,"height":40,"resolve":{"axis":{"x":"independent","y":"independent"}},"layer":[
{"data":{"name":"c1r2"},"mark":{"type":"line","clip":true},"encoding":{"x":{"field":"x","type":"quantitative","scale":{"domain":[0,8],"nice":false,"zero":false},"axis":{"values":[0,2,4,6,8],"labels":false,"title":null}},"y":{"field":"y","type":"quantitative","scale":{"domain":[-0.15,2.8],"nice":false,"zero":false},"axis":{"values":[0,1,2],"format":"~g","title":" ","labelOverlap":false,"labelSeparation":-30}}}},
{"data":{"values":[{}]},"mark":{"type":"text","text":"2"},"encoding":{"x":{"datum":0.46,"type":"quantitative","scale":{"domain":[0,8],"nice":false,"zero":false},"axis":{"orient":"top","values":[0,2,4,6,8],"labels":false,"title":null,"minExtent":0,"maxExtent":0}},"y":{"datum":1.3,"type":"quantitative","scale":{"domain":[-0.15,2.8],"nice":false,"zero":false},"axis":{"orient":"right","values":[0,1,2],"labels":false,"title":null,"minExtent":0,"maxExtent":0}}}}]},
{"width":308,"height":40,"resolve":{"axis":{"x":"independent","y":"independent"}},"layer":[
{"data":{"name":"c1r3"},"mark":{"type":"line","clip":true},"encoding":{"x":{"field":"x","type":"quantitative","scale":{"domain":[0,8],"nice":false,"zero":false},"axis":{"values":[0,2,4,6,8],"labels":false,"title":null}},"y":{"field":"y","type":"quantitative","scale":{"domain":[-0.2,3.45],"nice":false,"zero":false},"axis":{"values":[0,1,2,3],"format":"~g","title":" ","labelOverlap":false,"labelSeparation":-30}}}},
{"data":{"values":[{}]},"mark":{"type":"text","text":"3"},"encoding":{"x":{"datum":0.46,"type":"quantitative","scale":{"domain":[0,8],"nice":false,"zero":false},"axis":{"orient":"top","values":[0,2,4,6,8],"labels":false,"title":null,"minExtent":0,"maxExtent":0}},"y":{"datum":1.6,"type":"quantitative","scale":{"domain":[-0.2,3.45],"nice":false,"zero":false},"axis":{"orient":"right","values":[0,1,2,3],"labels":false,"title":null,"minExtent":0,"maxExtent":0}}}}]},
{"width":308,"height":40,"resolve":{"axis":{"x":"independent","y":"independent"}},"layer":[
{"data":{"name":"c1r4"},"mark":{"type":"line","clip":true},"encoding":{"x":{"field":"x","type":"quantitative","scale":{"domain":[0,8],"nice":false,"zero":false},"axis":{"values":[0,2,4,6,8],"labels":false,"title":null}},"y":{"field":"y","type":"quantitative","scale":{"domain":[-0.2,3.45],"nice":false,"zero":false},"axis":{"values":[0,1,2,3],"format":"~g","title":" ","labelOverlap":false,"labelSeparation":-30}}}},
{"data":{"values":[{}]},"mark":{"type":"text","text":"4"},"encoding":{"x":{"datum":0.46,"type":"quantitative","scale":{"domain":[0,8],"nice":false,"zero":false},"axis":{"orient":"top","values":[0,2,4,6,8],"labels":false,"title":null,"minExtent":0,"maxExtent":0}},"y":{"datum":1.6,"type":"quantitative","scale":{"domain":[-0.2,3.45],"nice":false,"zero":false},"axis":{"orient":"right","values":[0,1,2,3],"labels":false,"title":null,"minExtent":0,"maxExtent":0}}}}]},
{"width":308,"height":40,"resolve":{"axis":{"x":"independent","y":"independent"}},"layer":[
{"data":{"name":"c1r5"},"mark":{"type":"line","clip":true},"encoding":{"x":{"field":"x","type":"quantitative","scale":{"domain":[0,8],"nice":false,"zero":false},"axis":{"values":[0,2,4,6,8],"labels":false,"title":null}},"y":{"field":"y","type":"quantitative","scale":{"domain":[-0.25,3.9],"nice":false,"zero":false},"axis":{"values":[0,1,2,3],"format":"~g","title":" ","labelOverlap":false,"labelSeparation":-30}}}},
{"data":{"values":[{}]},"mark":{"type":"text","text":"5"},"encoding":{"x":{"datum":0.46,"type":"quantitative","scale":{"domain":[0,8],"nice":false,"zero":false},"axis":{"orient":"top","values":[0,2,4,6,8],"labels":false,"title":null,"minExtent":0,"maxExtent":0}},"y":{"datum":1.8,"type":"quantitative","scale":{"domain":[-0.25,3.9],"nice":false,"zero":false},"axis":{"orient":"right","values":[0,1,2,3],"labels":false,"title":null,"minExtent":0,"maxExtent":0}}}}]},
{"width":308,"height":40,"resolve":{"axis":{"x":"independent","y":"independent"}},"layer":[
{"data":{"name":"c1r6"},"mark":{"type":"line","clip":true},"encoding":{"x":{"field":"x","type":"quantitative","scale":{"domain":[0,8],"nice":false,"zero":false},"axis":{"values":[0,2,4,6,8],"labels":false,"title":null}},"y":{"field":"y","type":"quantitative","scale":{"domain":[-0.15,4.3],"nice":false,"zero":false},"axis":{"values":[0,2,4],"format":"~g","title":" ","labelOverlap":false,"labelSeparation":-30}}}},
{"data":{"values":[{}]},"mark":{"type":"text","text":"6"},"encoding":{"x":{"datum":0.46,"type":"quantitative","scale":{"domain":[0,8],"nice":false,"zero":false},"axis":{"orient":"top","values":[0,2,4,6,8],"labels":false,"title":null,"minExtent":0,"maxExtent":0}},"y":{"datum":2.05,"type":"quantitative","scale":{"domain":[-0.15,4.3],"nice":false,"zero":false},"axis":{"orient":"right","values":[0,2,4],"labels":false,"title":null,"minExtent":0,"maxExtent":0}}}}]},
{"width":308,"height":40,"resolve":{"axis":{"x":"independent","y":"independent"}},"layer":[
{"data":{"name":"c1r7"},"mark":{"type":"line","clip":true},"encoding":{"x":{"field":"x","type":"quantitative","scale":{"domain":[0,8],"nice":false,"zero":false},"axis":{"values":[0,2,4,6,8],"labels":false,"title":null}},"y":{"field":"y","type":"quantitative","scale":{"domain":[-0.25,3.9],"nice":false,"zero":false},"axis":{"values":[0,1,2,3],"format":"~g","title":" ","labelOverlap":false,"labelSeparation":-30}}}},
{"data":{"values":[{}]},"mark":{"type":"text","text":"7"},"encoding":{"x":{"datum":0.46,"type":"quantitative","scale":{"domain":[0,8],"nice":false,"zero":false},"axis":{"orient":"top","values":[0,2,4,6,8],"labels":false,"title":null,"minExtent":0,"maxExtent":0}},"y":{"datum":1.8,"type":"quantitative","scale":{"domain":[-0.25,3.9],"nice":false,"zero":false},"axis":{"orient":"right","values":[0,1,2,3],"labels":false,"title":null,"minExtent":0,"maxExtent":0}}}}]},
{"width":308,"height":40,"resolve":{"axis":{"x":"independent","y":"independent"}},"layer":[
{"data":{"name":"c1r8"},"mark":{"type":"line","clip":true},"encoding":{"x":{"field":"x","type":"quantitative","scale":{"domain":[0,8],"nice":false,"zero":false},"axis":{"values":[0,2,4,6,8],"labels":false,"title":null}},"y":{"field":"y","type":"quantitative","scale":{"domain":[-0.15,4.3],"nice":false,"zero":false},"axis":{"values":[0,2,4],"format":"~g","title":" ","labelOverlap":false,"labelSeparation":-30}}}},
{"data":{"values":[{}]},"mark":{"type":"text","text":"8"},"encoding":{"x":{"datum":0.46,"type":"quantitative","scale":{"domain":[0,8],"nice":false,"zero":false},"axis":{"orient":"top","values":[0,2,4,6,8],"labels":false,"title":null,"minExtent":0,"maxExtent":0}},"y":{"datum":2.05,"type":"quantitative","scale":{"domain":[-0.15,4.3],"nice":false,"zero":false},"axis":{"orient":"right","values":[0,2,4],"labels":false,"title":null,"minExtent":0,"maxExtent":0}}}}]},
{"width":308,"height":40,"resolve":{"axis":{"x":"independent","y":"independent"}},"layer":[
{"data":{"name":"c1r9"},"mark":{"type":"line","clip":true},"encoding":{"x":{"field":"x","type":"quantitative","scale":{"domain":[0,8],"nice":false,"zero":false},"axis":{"values":[0,2,4,6,8],"labels":false,"title":null}},"y":{"field":"y","type":"quantitative","scale":{"domain":[-0.2,2.95],"nice":false,"zero":false},"axis":{"values":[0,1,2],"format":"~g","title":" ","labelOverlap":false,"labelSeparation":-30}}}},
{"data":{"values":[{}]},"mark":{"type":"text","text":"9"},"encoding":{"x":{"datum":0.46,"type":"quantitative","scale":{"domain":[0,8],"nice":false,"zero":false},"axis":{"orient":"top","values":[0,2,4,6,8],"labels":false,"title":null,"minExtent":0,"maxExtent":0}},"y":{"datum":1.35,"type":"quantitative","scale":{"domain":[-0.2,2.95],"nice":false,"zero":false},"axis":{"orient":"right","values":[0,1,2],"labels":false,"title":null,"minExtent":0,"maxExtent":0}}}}]},
{"width":308,"height":40,"resolve":{"axis":{"x":"independent","y":"independent"}},"layer":[
{"data":{"name":"c1r10"},"mark":{"type":"line","clip":true},"encoding":{"x":{"field":"x","type":"quantitative","scale":{"domain":[0,8],"nice":false,"zero":false},"axis":{"values":[0,2,4,6,8],"labels":false,"title":null}},"y":{"field":"y","type":"quantitative","scale":{"domain":[-0.2,2.95],"nice":false,"zero":false},"axis":{"values":[0,1,2],"format":"~g","title":" ","labelOverlap":false,"labelSeparation":-30}}}},
{"data":{"values":[{}]},"mark":{"type":"text","text":"10"},"encoding":{"x":{"datum":0.46,"type":"quantitative","scale":{"domain":[0,8],"nice":false,"zero":false},"axis":{"orient":"top","values":[0,2,4,6,8],"labels":false,"title":null,"minExtent":0,"maxExtent":0}},"y":{"datum":1.35,"type":"quantitative","scale":{"domain":[-0.2,2.95],"nice":false,"zero":false},"axis":{"orient":"right","values":[0,1,2],"labels":false,"title":null,"minExtent":0,"maxExtent":0}}}}]},
{"width":308,"height":40,"view":{"stroke":"#c0504d","strokeWidth":3},"resolve":{"axis":{"x":"independent","y":"independent"}},"layer":[
{"data":{"name":"c1r11"},"mark":{"type":"line","clip":true},"encoding":{"x":{"field":"x","type":"quantitative","scale":{"domain":[0,8],"nice":false,"zero":false},"axis":{"values":[0,2,4,6,8],"format":"~g","title":null}},"y":{"field":"y","type":"quantitative","scale":{"domain":[-8.8,9.1],"nice":false,"zero":false},"axis":{"values":[-5,0,5],"labelExpr":"datum.value < 0 ? '-5' : datum.label","title":" ","labelOverlap":false,"labelSeparation":-30}},"detail":{"field":"s"}}},
{"data":{"name":"c1r11b"},"mark":{"type":"rect","clip":true},"encoding":{"x":{"field":"x","type":"quantitative","scale":{"domain":[0,8],"nice":false,"zero":false},"axis":null},"x2":{"field":"x2"},"y":{"field":"hi","type":"quantitative","scale":{"domain":[-8.8,9.1],"nice":false,"zero":false},"axis":null},"y2":{"field":"lo"}}},
{"data":{"values":[{}]},"mark":{"type":"text","text":"11"},"encoding":{"x":{"datum":0.46,"type":"quantitative","scale":{"domain":[0,8],"nice":false,"zero":false},"axis":null},"y":{"datum":0,"type":"quantitative","scale":{"domain":[-8.8,9.1],"nice":false,"zero":false},"axis":null}}}]}
]}
]},
{"width":5,"height":568,"data":{"values":[]},"mark":"rect","view":{"fill":"#2e9c3f","stroke":null}},
{"width":10,"height":568,"data":{"values":[]},"mark":"rect","view":{"stroke":null}},
{"width":5,"height":568,"data":{"values":[]},"mark":"rect","view":{"fill":"#8064a2","stroke":null}},
{"spacing":8,"vconcat":[
{"width":308,"height":1,"data":{"values":[]},"mark":"rect","view":{"stroke":null},"title":{"text":"shot56180","orient":"bottom","anchor":"start","frame":"group","dx":68,"offset":6}},
{"spacing":7.4,"bounds":"flush","vconcat":[
{"width":308,"height":40,"resolve":{"axis":{"x":"independent","y":"independent"}},"layer":[
{"data":{"name":"c2r1"},"mark":{"type":"line","clip":true},"encoding":{"x":{"field":"x","type":"quantitative","scale":{"domain":[0,3],"nice":false,"zero":false},"axis":{"values":[0,0.5,1,1.5,2,2.5,3],"labels":false,"title":null}},"y":{"field":"y","type":"quantitative","scale":{"domain":[-0.2,1.02],"nice":false,"zero":false},"axis":{"values":[0,0.5,1],"format":"~g","title":" ","labelOverlap":false,"labelSeparation":-30}}}},
{"data":{"values":[{}]},"mark":{"type":"text","text":"1"},"encoding":{"x":{"datum":0.2,"type":"quantitative","scale":{"domain":[0,3],"nice":false,"zero":false},"axis":{"orient":"top","values":[0,0.5,1,1.5,2,2.5,3],"labels":false,"title":null,"minExtent":0,"maxExtent":0}},"y":{"datum":0.4,"type":"quantitative","scale":{"domain":[-0.2,1.02],"nice":false,"zero":false},"axis":{"orient":"right","values":[0,0.5,1],"labels":false,"title":null,"minExtent":0,"maxExtent":0}}}}]},
{"width":308,"height":40,"resolve":{"axis":{"x":"independent","y":"independent"}},"layer":[
{"data":{"name":"c2r2"},"mark":{"type":"line","clip":true},"encoding":{"x":{"field":"x","type":"quantitative","scale":{"domain":[0,3],"nice":false,"zero":false},"axis":{"values":[0,0.5,1,1.5,2,2.5,3],"labels":false,"title":null}},"y":{"field":"y","type":"quantitative","scale":{"domain":[-0.17,1.56],"nice":false,"zero":false},"axis":{"values":[0,0.5,1,1.5],"format":"~g","title":" ","labelOverlap":false,"labelSeparation":-30}}}},
{"data":{"values":[{}]},"mark":{"type":"text","text":"2"},"encoding":{"x":{"datum":0.2,"type":"quantitative","scale":{"domain":[0,3],"nice":false,"zero":false},"axis":{"orient":"top","values":[0,0.5,1,1.5,2,2.5,3],"labels":false,"title":null,"minExtent":0,"maxExtent":0}},"y":{"datum":0.7,"type":"quantitative","scale":{"domain":[-0.17,1.56],"nice":false,"zero":false},"axis":{"orient":"right","values":[0,0.5,1,1.5],"labels":false,"title":null,"minExtent":0,"maxExtent":0}}}}]},
{"width":308,"height":40,"resolve":{"axis":{"x":"independent","y":"independent"}},"layer":[
{"data":{"name":"c2r3"},"mark":{"type":"line","clip":true},"encoding":{"x":{"field":"x","type":"quantitative","scale":{"domain":[0,3],"nice":false,"zero":false},"axis":{"values":[0,0.5,1,1.5,2,2.5,3],"labels":false,"title":null}},"y":{"field":"y","type":"quantitative","scale":{"domain":[-0.14,2.3],"nice":false,"zero":false},"axis":{"values":[0,1,2],"format":"~g","title":" ","labelOverlap":false,"labelSeparation":-30}}}},
{"data":{"values":[{}]},"mark":{"type":"text","text":"3"},"encoding":{"x":{"datum":0.2,"type":"quantitative","scale":{"domain":[0,3],"nice":false,"zero":false},"axis":{"orient":"top","values":[0,0.5,1,1.5,2,2.5,3],"labels":false,"title":null,"minExtent":0,"maxExtent":0}},"y":{"datum":1.05,"type":"quantitative","scale":{"domain":[-0.14,2.3],"nice":false,"zero":false},"axis":{"orient":"right","values":[0,1,2],"labels":false,"title":null,"minExtent":0,"maxExtent":0}}}}]},
{"width":308,"height":40,"resolve":{"axis":{"x":"independent","y":"independent"}},"layer":[
{"data":{"name":"c2r4"},"mark":{"type":"line","clip":true},"encoding":{"x":{"field":"x","type":"quantitative","scale":{"domain":[0,3],"nice":false,"zero":false},"axis":{"values":[0,0.5,1,1.5,2,2.5,3],"labels":false,"title":null}},"y":{"field":"y","type":"quantitative","scale":{"domain":[-0.18,2.9],"nice":false,"zero":false},"axis":{"values":[0,1,2],"format":"~g","title":" ","labelOverlap":false,"labelSeparation":-30}}}},
{"data":{"values":[{}]},"mark":{"type":"text","text":"4"},"encoding":{"x":{"datum":0.2,"type":"quantitative","scale":{"domain":[0,3],"nice":false,"zero":false},"axis":{"orient":"top","values":[0,0.5,1,1.5,2,2.5,3],"labels":false,"title":null,"minExtent":0,"maxExtent":0}},"y":{"datum":1.35,"type":"quantitative","scale":{"domain":[-0.18,2.9],"nice":false,"zero":false},"axis":{"orient":"right","values":[0,1,2],"labels":false,"title":null,"minExtent":0,"maxExtent":0}}}}]},
{"width":308,"height":40,"resolve":{"axis":{"x":"independent","y":"independent"}},"layer":[
{"data":{"name":"c2r5"},"mark":{"type":"line","clip":true},"encoding":{"x":{"field":"x","type":"quantitative","scale":{"domain":[0,3],"nice":false,"zero":false},"axis":{"values":[0,0.5,1,1.5,2,2.5,3],"labels":false,"title":null}},"y":{"field":"y","type":"quantitative","scale":{"domain":[-0.25,3.5],"nice":false,"zero":false},"axis":{"values":[0,1,2,3],"format":"~g","title":" ","labelOverlap":false,"labelSeparation":-30}}}},
{"data":{"values":[{}]},"mark":{"type":"text","text":"5"},"encoding":{"x":{"datum":0.2,"type":"quantitative","scale":{"domain":[0,3],"nice":false,"zero":false},"axis":{"orient":"top","values":[0,0.5,1,1.5,2,2.5,3],"labels":false,"title":null,"minExtent":0,"maxExtent":0}},"y":{"datum":1.6,"type":"quantitative","scale":{"domain":[-0.25,3.5],"nice":false,"zero":false},"axis":{"orient":"right","values":[0,1,2,3],"labels":false,"title":null,"minExtent":0,"maxExtent":0}}}}]},
{"width":308,"height":40,"resolve":{"axis":{"x":"independent","y":"independent"}},"layer":[
{"data":{"name":"c2r6"},"mark":{"type":"line","clip":true},"encoding":{"x":{"field":"x","type":"quantitative","scale":{"domain":[0,3],"nice":false,"zero":false},"axis":{"values":[0,0.5,1,1.5,2,2.5,3],"labels":false,"title":null}},"y":{"field":"y","type":"quantitative","scale":{"domain":[-0.1,3.4],"nice":false,"zero":false},"axis":{"values":[0,1,2,3],"format":"~g","title":" ","labelOverlap":false,"labelSeparation":-30}}}},
{"data":{"values":[{}]},"mark":{"type":"text","text":"6"},"encoding":{"x":{"datum":0.2,"type":"quantitative","scale":{"domain":[0,3],"nice":false,"zero":false},"axis":{"orient":"top","values":[0,0.5,1,1.5,2,2.5,3],"labels":false,"title":null,"minExtent":0,"maxExtent":0}},"y":{"datum":1.6,"type":"quantitative","scale":{"domain":[-0.1,3.4],"nice":false,"zero":false},"axis":{"orient":"right","values":[0,1,2,3],"labels":false,"title":null,"minExtent":0,"maxExtent":0}}}}]},
{"width":308,"height":40,"resolve":{"axis":{"x":"independent","y":"independent"}},"layer":[
{"data":{"name":"c2r7"},"mark":{"type":"line","clip":true},"encoding":{"x":{"field":"x","type":"quantitative","scale":{"domain":[0,3],"nice":false,"zero":false},"axis":{"values":[0,0.5,1,1.5,2,2.5,3],"labels":false,"title":null}},"y":{"field":"y","type":"quantitative","scale":{"domain":[-0.15,3.3],"nice":false,"zero":false},"axis":{"values":[0,1,2,3],"format":"~g","title":" ","labelOverlap":false,"labelSeparation":-30}}}},
{"data":{"values":[{}]},"mark":{"type":"text","text":"7"},"encoding":{"x":{"datum":0.2,"type":"quantitative","scale":{"domain":[0,3],"nice":false,"zero":false},"axis":{"orient":"top","values":[0,0.5,1,1.5,2,2.5,3],"labels":false,"title":null,"minExtent":0,"maxExtent":0}},"y":{"datum":1.55,"type":"quantitative","scale":{"domain":[-0.15,3.3],"nice":false,"zero":false},"axis":{"orient":"right","values":[0,1,2,3],"labels":false,"title":null,"minExtent":0,"maxExtent":0}}}}]},
{"width":308,"height":40,"view":{"stroke":"#c0504d","strokeWidth":3},"resolve":{"axis":{"x":"independent","y":"independent"}},"layer":[
{"data":{"name":"c2r8b"},"mark":{"type":"area","clip":true},"encoding":{"x":{"field":"x","type":"quantitative","scale":{"domain":[0,3],"nice":false,"zero":false},"axis":{"values":[0,0.5,1,1.5,2,2.5,3],"labels":false,"title":null}},"y":{"field":"hi","type":"quantitative","scale":{"domain":[-0.03,0.036],"nice":false,"zero":false},"axis":{"values":[-0.02,0,0.02],"labelExpr":"datum.value == 0 ? '0' : '.02'","title":" ","labelOverlap":false,"labelSeparation":-30}},"y2":{"field":"lo"}}},
{"data":{"name":"c2r8s"},"mark":{"type":"rule","clip":true},"encoding":{"x":{"field":"x","type":"quantitative","scale":{"domain":[0,3],"nice":false,"zero":false},"axis":null},"y":{"field":"lo","type":"quantitative","scale":{"domain":[-0.03,0.036],"nice":false,"zero":false},"axis":null},"y2":{"field":"hi"}}},
{"data":{"values":[{}]},"mark":{"type":"text","text":"8"},"encoding":{"x":{"datum":0.2,"type":"quantitative","scale":{"domain":[0,3],"nice":false,"zero":false},"axis":null},"y":{"datum":0.002,"type":"quantitative","scale":{"domain":[-0.03,0.036],"nice":false,"zero":false},"axis":null}}}]},
{"width":308,"height":40,"resolve":{"axis":{"x":"independent","y":"independent"}},"layer":[
{"data":{"name":"c2r9"},"mark":{"type":"line","clip":true},"encoding":{"x":{"field":"x","type":"quantitative","scale":{"domain":[0,3],"nice":false,"zero":false},"axis":{"values":[0,0.5,1,1.5,2,2.5,3],"labels":false,"title":null}},"y":{"field":"y","type":"quantitative","scale":{"domain":[-0.2,3.3],"nice":false,"zero":false},"axis":{"values":[0,1,2,3],"format":"~g","title":" ","labelOverlap":false,"labelSeparation":-30}}}},
{"data":{"values":[{}]},"mark":{"type":"text","text":"9"},"encoding":{"x":{"datum":0.2,"type":"quantitative","scale":{"domain":[0,3],"nice":false,"zero":false},"axis":{"orient":"top","values":[0,0.5,1,1.5,2,2.5,3],"labels":false,"title":null,"minExtent":0,"maxExtent":0}},"y":{"datum":1.5,"type":"quantitative","scale":{"domain":[-0.2,3.3],"nice":false,"zero":false},"axis":{"orient":"right","values":[0,1,2,3],"labels":false,"title":null,"minExtent":0,"maxExtent":0}}}}]},
{"width":308,"height":40,"resolve":{"axis":{"x":"independent","y":"independent"}},"layer":[
{"data":{"name":"c2r10"},"mark":{"type":"line","clip":true},"encoding":{"x":{"field":"x","type":"quantitative","scale":{"domain":[0,3],"nice":false,"zero":false},"axis":{"values":[0,0.5,1,1.5,2,2.5,3],"labels":false,"title":null}},"y":{"field":"y","type":"quantitative","scale":{"domain":[-0.15,3.2],"nice":false,"zero":false},"axis":{"values":[0,1,2,3],"format":"~g","title":" ","labelOverlap":false,"labelSeparation":-30}}}},
{"data":{"values":[{}]},"mark":{"type":"text","text":"10"},"encoding":{"x":{"datum":0.2,"type":"quantitative","scale":{"domain":[0,3],"nice":false,"zero":false},"axis":{"orient":"top","values":[0,0.5,1,1.5,2,2.5,3],"labels":false,"title":null,"minExtent":0,"maxExtent":0}},"y":{"datum":1.5,"type":"quantitative","scale":{"domain":[-0.15,3.2],"nice":false,"zero":false},"axis":{"orient":"right","values":[0,1,2,3],"labels":false,"title":null,"minExtent":0,"maxExtent":0}}}}]},
{"width":308,"height":40,"resolve":{"axis":{"x":"independent","y":"independent"}},"layer":[
{"data":{"name":"c2r11"},"mark":{"type":"line","clip":true},"encoding":{"x":{"field":"x","type":"quantitative","scale":{"domain":[0,3],"nice":false,"zero":false},"axis":{"values":[0,0.5,1,1.5,2,2.5,3],"format":"~g","title":null}},"y":{"field":"y","type":"quantitative","scale":{"domain":[-0.15,3.15],"nice":false,"zero":false},"axis":{"values":[0,1,2,3],"format":"~g","title":" ","labelOverlap":false,"labelSeparation":-30}}}},
{"data":{"values":[{}]},"mark":{"type":"text","text":"11"},"encoding":{"x":{"datum":0.2,"type":"quantitative","scale":{"domain":[0,3],"nice":false,"zero":false},"axis":{"orient":"top","values":[0,0.5,1,1.5,2,2.5,3],"labels":false,"title":null,"minExtent":0,"maxExtent":0}},"y":{"datum":1.5,"type":"quantitative","scale":{"domain":[-0.15,3.15],"nice":false,"zero":false},"axis":{"orient":"right","values":[0,1,2,3],"labels":false,"title":null,"minExtent":0,"maxExtent":0}}}}]}
]}
]},
{"width":5,"height":568,"data":{"values":[]},"mark":"rect","view":{"fill":"#8064a2","stroke":null}},
{"width":8,"height":568,"data":{"values":[]},"mark":"rect","view":{"stroke":null}},
{"width":5,"height":568,"data":{"values":[]},"mark":"rect","view":{"fill":"#21b478","stroke":null}},
{"spacing":8,"vconcat":[
{"width":308,"height":1,"data":{"values":[]},"mark":"rect","view":{"stroke":null},"title":{"text":"shot58888","orient":"bottom","anchor":"start","frame":"group","dx":68,"offset":6}},
{"spacing":7.4,"bounds":"flush","vconcat":[
{"width":308,"height":40,"resolve":{"axis":{"x":"independent","y":"independent"}},"layer":[
{"data":{"name":"c3r1"},"mark":{"type":"line","clip":true},"encoding":{"x":{"field":"x","type":"quantitative","scale":{"domain":[0,2.5],"nice":false,"zero":false},"axis":{"values":[0,0.5,1,1.5,2],"labels":false,"title":null}},"y":{"field":"y","type":"quantitative","scale":{"domain":[-0.19,1.27],"nice":false,"zero":false},"axis":{"values":[0,0.5,1],"format":"~g","title":" ","labelOverlap":false,"labelSeparation":-30}}}},
{"data":{"values":[{}]},"mark":{"type":"text","text":"1"},"encoding":{"x":{"datum":0.18,"type":"quantitative","scale":{"domain":[0,2.5],"nice":false,"zero":false},"axis":{"orient":"top","values":[0,0.5,1,1.5,2],"labels":false,"title":null,"minExtent":0,"maxExtent":0}},"y":{"datum":0.55,"type":"quantitative","scale":{"domain":[-0.19,1.27],"nice":false,"zero":false},"axis":null}}}]},
{"width":308,"height":40,"resolve":{"axis":{"x":"independent","y":"independent"}},"layer":[
{"data":{"name":"c3r2"},"mark":{"type":"line","clip":true},"encoding":{"x":{"field":"x","type":"quantitative","scale":{"domain":[0,2.5],"nice":false,"zero":false},"axis":{"values":[0,0.5,1,1.5,2],"labels":false,"title":null}},"y":{"field":"y","type":"quantitative","scale":{"domain":[-0.15,1.37],"nice":false,"zero":false},"axis":{"values":[0,0.5,1],"format":"~g","title":" ","labelOverlap":false,"labelSeparation":-30}}}},
{"data":{"values":[{}]},"mark":{"type":"text","text":"2"},"encoding":{"x":{"datum":0.18,"type":"quantitative","scale":{"domain":[0,2.5],"nice":false,"zero":false},"axis":{"orient":"top","values":[0,0.5,1,1.5,2],"labels":false,"title":null,"minExtent":0,"maxExtent":0}},"y":{"datum":0.6,"type":"quantitative","scale":{"domain":[-0.15,1.37],"nice":false,"zero":false},"axis":null}}}]},
{"width":308,"height":40,"resolve":{"axis":{"x":"independent","y":"independent"}},"layer":[
{"data":{"name":"c3r3"},"mark":{"type":"line","clip":true},"encoding":{"x":{"field":"x","type":"quantitative","scale":{"domain":[0,2.5],"nice":false,"zero":false},"axis":{"values":[0,0.5,1,1.5,2],"labels":false,"title":null}},"y":{"field":"y","type":"quantitative","scale":{"domain":[-0.2,1.44],"nice":false,"zero":false},"axis":{"values":[0,0.5,1],"format":"~g","title":" ","labelOverlap":false,"labelSeparation":-30}}}},
{"data":{"values":[{}]},"mark":{"type":"text","text":"3"},"encoding":{"x":{"datum":0.18,"type":"quantitative","scale":{"domain":[0,2.5],"nice":false,"zero":false},"axis":{"orient":"top","values":[0,0.5,1,1.5,2],"labels":false,"title":null,"minExtent":0,"maxExtent":0}},"y":{"datum":0.62,"type":"quantitative","scale":{"domain":[-0.2,1.44],"nice":false,"zero":false},"axis":null}}}]},
{"width":308,"height":40,"view":{"stroke":"#c0504d","strokeWidth":3},"resolve":{"axis":{"x":"independent","y":"independent"}},"layer":[
{"data":{"name":"c3r4b"},"mark":{"type":"rect","clip":true},"encoding":{"x":{"field":"x","type":"quantitative","scale":{"domain":[0,2.5],"nice":false,"zero":false},"axis":{"values":[0,0.5,1,1.5,2],"labels":false,"title":null}},"x2":{"field":"x2"},"y":{"field":"hi","type":"quantitative","scale":{"domain":[-9.2,9.7],"nice":false,"zero":false},"axis":{"values":[-5,0,5],"labelExpr":"datum.value < 0 ? '-5' : datum.label","title":" ","labelOverlap":false,"labelSeparation":-30}},"y2":{"field":"lo"}}},
{"data":{"values":[{}]},"mark":{"type":"text","text":"4"},"encoding":{"x":{"datum":0.18,"type":"quantitative","scale":{"domain":[0,2.5],"nice":false,"zero":false},"axis":null},"y":{"datum":0.25,"type":"quantitative","scale":{"domain":[-9.2,9.7],"nice":false,"zero":false},"axis":null}}}]},
{"width":308,"height":40,"resolve":{"axis":{"x":"independent","y":"independent"}},"layer":[
{"data":{"name":"c3r5"},"mark":{"type":"line","clip":true},"encoding":{"x":{"field":"x","type":"quantitative","scale":{"domain":[0,2.5],"nice":false,"zero":false},"axis":{"values":[0,0.5,1,1.5,2],"labels":false,"title":null}},"y":{"field":"y","type":"quantitative","scale":{"domain":[-0.19,2.2],"nice":false,"zero":false},"axis":{"values":[0,1,2],"format":"~g","title":" ","labelOverlap":false,"labelSeparation":-30}}}},
{"data":{"values":[{}]},"mark":{"type":"text","text":"5"},"encoding":{"x":{"datum":0.18,"type":"quantitative","scale":{"domain":[0,2.5],"nice":false,"zero":false},"axis":{"orient":"top","values":[0,0.5,1,1.5,2],"labels":false,"title":null,"minExtent":0,"maxExtent":0}},"y":{"datum":1.0,"type":"quantitative","scale":{"domain":[-0.19,2.2],"nice":false,"zero":false},"axis":null}}}]},
{"width":308,"height":40,"resolve":{"axis":{"x":"independent","y":"independent"}},"layer":[
{"data":{"name":"c3r6"},"mark":{"type":"line","clip":true},"encoding":{"x":{"field":"x","type":"quantitative","scale":{"domain":[0,2.5],"nice":false,"zero":false},"axis":{"values":[0,0.5,1,1.5,2],"labels":false,"title":null}},"y":{"field":"y","type":"quantitative","scale":{"domain":[-0.12,2.28],"nice":false,"zero":false},"axis":{"values":[0,1,2],"format":"~g","title":" ","labelOverlap":false,"labelSeparation":-30}}}},
{"data":{"values":[{}]},"mark":{"type":"text","text":"6"},"encoding":{"x":{"datum":0.18,"type":"quantitative","scale":{"domain":[0,2.5],"nice":false,"zero":false},"axis":{"orient":"top","values":[0,0.5,1,1.5,2],"labels":false,"title":null,"minExtent":0,"maxExtent":0}},"y":{"datum":1.08,"type":"quantitative","scale":{"domain":[-0.12,2.28],"nice":false,"zero":false},"axis":null}}}]},
{"width":308,"height":40,"resolve":{"axis":{"x":"independent","y":"independent"}},"layer":[
{"data":{"name":"c3r7"},"mark":{"type":"line","clip":true},"encoding":{"x":{"field":"x","type":"quantitative","scale":{"domain":[0,2.5],"nice":false,"zero":false},"axis":{"values":[0,0.5,1,1.5,2],"labels":false,"title":null}},"y":{"field":"y","type":"quantitative","scale":{"domain":[-0.14,2.3],"nice":false,"zero":false},"axis":{"values":[0,1,2],"format":"~g","title":" ","labelOverlap":false,"labelSeparation":-30}}}},
{"data":{"values":[{}]},"mark":{"type":"text","text":"7"},"encoding":{"x":{"datum":0.18,"type":"quantitative","scale":{"domain":[0,2.5],"nice":false,"zero":false},"axis":{"orient":"top","values":[0,0.5,1,1.5,2],"labels":false,"title":null,"minExtent":0,"maxExtent":0}},"y":{"datum":1.08,"type":"quantitative","scale":{"domain":[-0.14,2.3],"nice":false,"zero":false},"axis":null}}}]},
{"width":308,"height":40,"view":{"stroke":"#c0504d","strokeWidth":3},"resolve":{"axis":{"x":"independent","y":"independent"}},"layer":[
{"data":{"name":"c3r8b"},"mark":{"type":"area","clip":true},"encoding":{"x":{"field":"x","type":"quantitative","scale":{"domain":[0,2.5],"nice":false,"zero":false},"axis":{"values":[0,0.5,1,1.5,2],"labels":false,"title":null}},"y":{"field":"hi","type":"quantitative","scale":{"domain":[-0.036,0.04],"nice":false,"zero":false},"axis":{"values":[-0.02,0,0.02,0.04],"labelExpr":"datum.value == 0 ? '0' : (datum.value > 0.03 ? '.04' : '.02')","title":" ","labelOverlap":false,"labelSeparation":-30}},"y2":{"field":"lo"}}},
{"data":{"name":"c3r8s"},"mark":{"type":"rule","clip":true},"encoding":{"x":{"field":"x","type":"quantitative","scale":{"domain":[0,2.5],"nice":false,"zero":false},"axis":null},"y":{"field":"lo","type":"quantitative","scale":{"domain":[-0.036,0.04],"nice":false,"zero":false},"axis":null},"y2":{"field":"hi"}}},
{"data":{"values":[{}]},"mark":{"type":"text","text":"8"},"encoding":{"x":{"datum":0.18,"type":"quantitative","scale":{"domain":[0,2.5],"nice":false,"zero":false},"axis":null},"y":{"datum":0.001,"type":"quantitative","scale":{"domain":[-0.036,0.04],"nice":false,"zero":false},"axis":null}}}]},
{"width":308,"height":40,"resolve":{"axis":{"x":"independent","y":"independent"}},"layer":[
{"data":{"name":"c3r9"},"mark":{"type":"line","clip":true},"encoding":{"x":{"field":"x","type":"quantitative","scale":{"domain":[0,2.5],"nice":false,"zero":false},"axis":{"values":[0,0.5,1,1.5,2],"labels":false,"title":null}},"y":{"field":"y","type":"quantitative","scale":{"domain":[-0.2,1.9],"nice":false,"zero":false},"axis":{"values":[0,0.5,1,1.5],"format":"~g","title":" ","labelOverlap":false,"labelSeparation":-30}}}},
{"data":{"values":[{}]},"mark":{"type":"text","text":"9"},"encoding":{"x":{"datum":0.18,"type":"quantitative","scale":{"domain":[0,2.5],"nice":false,"zero":false},"axis":{"orient":"top","values":[0,0.5,1,1.5,2],"labels":false,"title":null,"minExtent":0,"maxExtent":0}},"y":{"datum":0.85,"type":"quantitative","scale":{"domain":[-0.2,1.9],"nice":false,"zero":false},"axis":null}}}]},
{"width":308,"height":40,"resolve":{"axis":{"x":"independent","y":"independent"}},"layer":[
{"data":{"name":"c3r10"},"mark":{"type":"line","clip":true},"encoding":{"x":{"field":"x","type":"quantitative","scale":{"domain":[0,2.5],"nice":false,"zero":false},"axis":{"values":[0,0.5,1,1.5,2],"labels":false,"title":null}},"y":{"field":"y","type":"quantitative","scale":{"domain":[-0.16,2.07],"nice":false,"zero":false},"axis":{"values":[0,1,2],"format":"~g","title":" ","labelOverlap":false,"labelSeparation":-30}}}},
{"data":{"values":[{}]},"mark":{"type":"text","text":"10"},"encoding":{"x":{"datum":0.18,"type":"quantitative","scale":{"domain":[0,2.5],"nice":false,"zero":false},"axis":{"orient":"top","values":[0,0.5,1,1.5,2],"labels":false,"title":null,"minExtent":0,"maxExtent":0}},"y":{"datum":0.95,"type":"quantitative","scale":{"domain":[-0.16,2.07],"nice":false,"zero":false},"axis":null}}}]},
{"width":308,"height":40,"view":{"stroke":"#c0504d","strokeWidth":3},"resolve":{"axis":{"x":"independent","y":"independent"}},"layer":[
{"data":{"name":"c3r11"},"mark":{"type":"line","clip":true},"encoding":{"x":{"field":"x","type":"quantitative","scale":{"domain":[0,2.5],"nice":false,"zero":false},"axis":{"values":[0,0.5,1,1.5,2],"format":"~g","title":null}},"y":{"field":"y","type":"quantitative","scale":{"domain":[-8.8,9.1],"nice":false,"zero":false},"axis":{"values":[-5,0,5],"labelExpr":"datum.value < 0 ? '-5' : datum.label","title":" ","labelOverlap":false,"labelSeparation":-30}},"detail":{"field":"s"}}},
{"data":{"name":"c3r11b"},"mark":{"type":"rect","clip":true},"encoding":{"x":{"field":"x","type":"quantitative","scale":{"domain":[0,2.5],"nice":false,"zero":false},"axis":null},"x2":{"field":"x2"},"y":{"field":"hi","type":"quantitative","scale":{"domain":[-8.8,9.1],"nice":false,"zero":false},"axis":null},"y2":{"field":"lo"}}},
{"data":{"values":[{}]},"mark":{"type":"text","text":"11"},"encoding":{"x":{"datum":0.18,"type":"quantitative","scale":{"domain":[0,2.5],"nice":false,"zero":false},"axis":null},"y":{"datum":0,"type":"quantitative","scale":{"domain":[-8.8,9.1],"nice":false,"zero":false},"axis":null}}}]}
]}
]}
]},
{"spacing":0,"hconcat":[
{"width":346,"height":5,"data":{"values":[]},"mark":"rect","view":{"fill":"#2e9c3f","stroke":null}},
{"width":10,"height":5,"data":{"values":[]},"mark":"rect","view":{"stroke":null}},
{"width":346,"height":5,"data":{"values":[]},"mark":"rect","view":{"fill":"#8064a2","stroke":null}},
{"width":8,"height":5,"data":{"values":[]},"mark":"rect","view":{"stroke":null}},
{"width":340,"height":5,"data":{"values":[]},"mark":"rect","view":{"fill":"#21b478","stroke":null}}
]}
]
}
